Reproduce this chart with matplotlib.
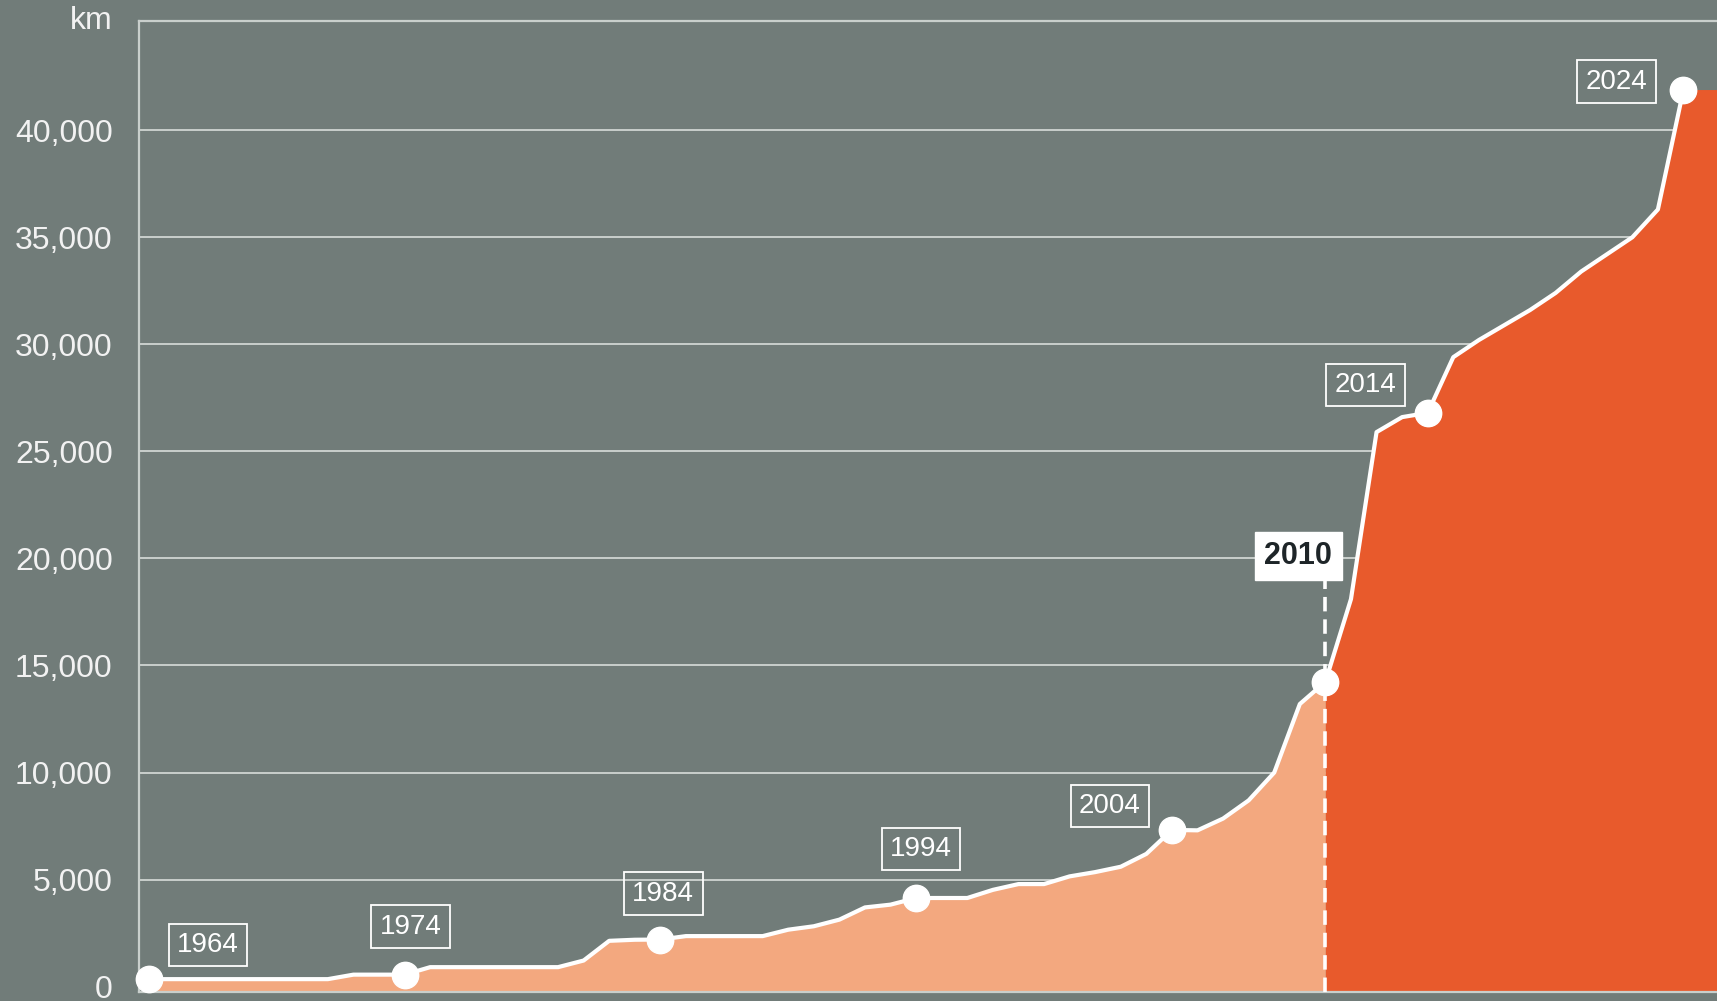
import numpy as np
import matplotlib.pyplot as plt

# length of network, km, one value per year
years = list(range(1964, 2025))
km = [
    350, 350, 350, 350, 350, 350, 350, 350,           # 1964-1971
    560, 560, 560,                                    # 1972-1974
    910, 910, 910, 910, 910, 910,                     # 1975-1980
    1220, 2140, 2190, 2200,                           # 1981-1984
    2360, 2360, 2360, 2360,                           # 1985-1988
    2660, 2820, 3130, 3700, 3830, 4140,               # 1989-1994
    4140, 4140, 4520, 4790, 4790,                     # 1995-1999
    5150, 5350, 5600, 6200, 7320,                     # 2000-2004
    7300, 7850, 8700, 10000, 13200, 14240,            # 2005-2010
    18100, 25900, 26600, 26800, 29400,                # 2011-2015
    30200, 30900, 31600, 32400, 33400,                # 2016-2020
    34200, 35000, 36300, 41900,                       # 2021-2024
]
marked = [1964, 1974, 1984, 1994, 2004, 2010, 2014, 2024]
split_year = 2010

# label offsets in pixels from the dot
label_offsets = {
    1964: (59, 34), 1974: (6, 48), 1984: (3, 46), 1994: (5, 49),
    2004: (-62, 24), 2010: (-27, 126), 2014: (-62, 28), 2024: (-67, 8),
}

bg = "#717c79"
light = "#f3a87f"
dark = "#e85a2c"
grid_c = "#c9cfcc"
font = ["Liberation Sans", "DejaVu Sans"]
plt.rcParams["font.family"] = font

x = np.array(years, dtype=float)
y = np.array(km, dtype=float)

fig = plt.figure(figsize=(17.17, 10.01), dpi=100, facecolor=bg)
ax = fig.add_axes([0.081, 0.009, 0.919, 0.970])
ax.set_facecolor(bg)

ymin, ymax = -250, 45100
xmin, xmax = 1963.62, 2025.31
ax.set_ylim(ymin, ymax)
ax.set_xlim(xmin, xmax)

# fills: before and after the split year
pre = x <= split_year
post = x >= split_year
ax.fill_between(x[pre], ymin, y[pre], color=light, lw=0, zorder=2)
xp = np.append(x[post], xmax)
yp = np.append(y[post], y[-1])
ax.fill_between(xp, ymin, yp, color=dark, lw=0, zorder=2)

ax.plot(x, y, color="white", lw=3, solid_joinstyle="round", zorder=4)

# dashed marker line at 2010
ax.vlines(split_year, ymin, 19500, colors="white", linestyles=(0, (4, 2.2)),
          lw=2.6, zorder=3)

for yr in marked:
    v = y[years.index(yr)]
    ax.plot(yr, v, "o", ms=19, color="white", mec="white", zorder=5, clip_on=False)
    dx, dy = label_offsets[yr]
    if yr == split_year:
        ax.annotate(str(yr), (yr, v), xytext=(dx, dy), textcoords="offset pixels",
                    ha="center", va="center", fontsize=22, color="#1e2528",
                    fontweight="bold",
                    bbox=dict(boxstyle="square,pad=0.3", fc="white", ec="white"),
                    zorder=6)
    else:
        ax.annotate(str(yr), (yr, v), xytext=(dx, dy), textcoords="offset pixels",
                    ha="center", va="center", fontsize=20, color="white",
                    bbox=dict(boxstyle="square,pad=0.3", fc="none", ec="white", lw=1.3),
                    zorder=6)

yticks = np.arange(0, 45000, 5000)
ax.set_yticks(yticks)
ax.set_yticklabels([f"{t:,}" for t in yticks], fontsize=23, color="#f2f2f2")
ax.set_xticks([])
ax.tick_params(axis="y", length=0, pad=19)
for t in yticks[1:]:
    ax.axhline(t, color=grid_c, lw=1.4, zorder=1)

for side in ["top", "left", "bottom"]:
    ax.spines[side].set_color(grid_c)
    ax.spines[side].set_linewidth(1.6)
ax.spines["right"].set_visible(False)

ax.annotate("km", xy=(0, 1), xycoords="axes fraction", xytext=(-26, 0),
            textcoords="offset pixels", ha="right", va="center",
            fontsize=23, color="#f2f2f2")

fig.savefig("out.png", dpi=100, facecolor=bg)
